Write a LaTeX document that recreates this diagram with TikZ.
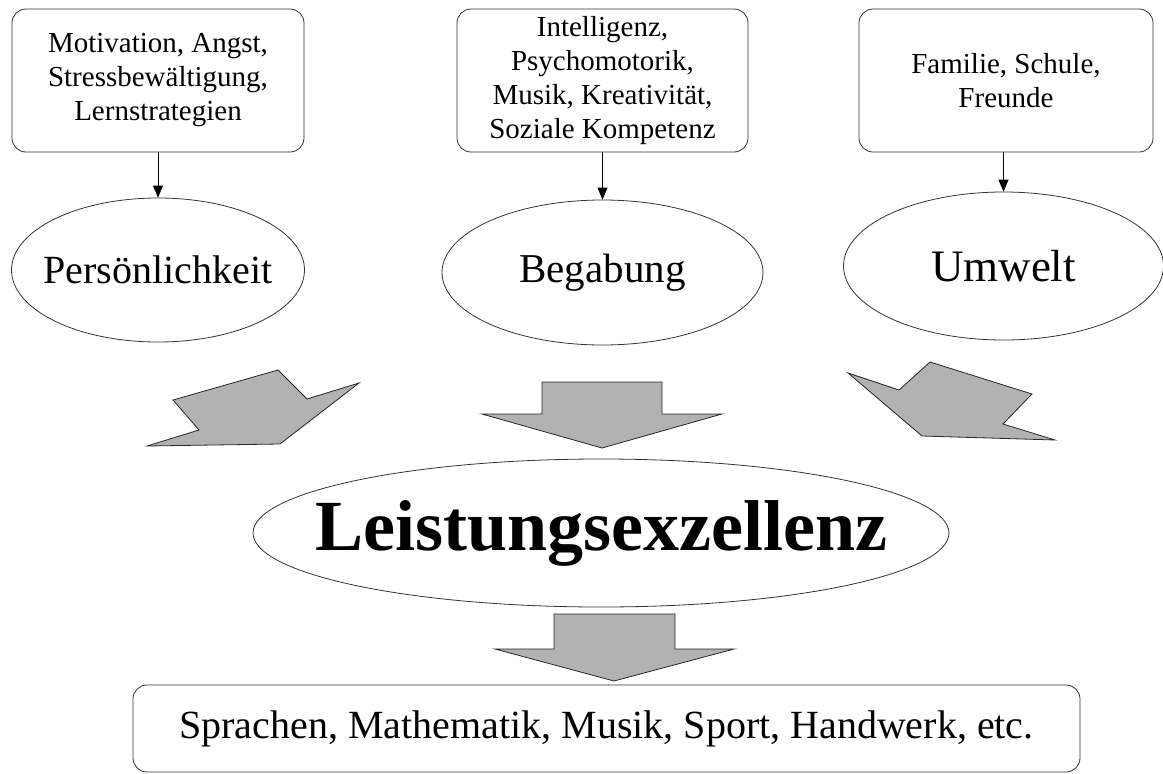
\documentclass[tikz,border=0pt]{standalone}
\usepackage{fontspec}
\setmainfont{Liberation Serif}
\usepackage{tikz}
\usetikzlibrary{arrows.meta, shapes.geometric}

\begin{document}
\begin{tikzpicture}[
    x=1pt, y=-1pt,
    line width=0.8pt,
    topbox/.style={rectangle, rounded corners=14pt, draw=black!80, minimum width=292pt, minimum height=143pt, align=center, font=\fontsize{29}{34}\selectfont, inner sep=0pt},
    factor/.style={ellipse, draw=black!80, inner xsep=-60pt, inner ysep=-15pt, font=\fontsize{41}{44}\selectfont},
    arr/.style={-{Triangle[width=10pt, length=12pt]}, black},
    bigarrow/.style={draw=black!85, fill=black!30, line join=miter}
]
\useasboundingbox (0,0) rectangle (1163,774);

% --- Einflussfaktoren ---
\node[topbox] (b_pers) at (158, 80.5) {Motivation, Angst,\\Stressbewältigung,\\Lernstrategien};
\node[topbox, minimum width=291pt] (b_beg) at (602.5, 80.5) {Intelligenz,\\Psychomotorik,\\Musik, Kreativität,\\Soziale Kompetenz};
\node[topbox, minimum width=294pt] (b_umw) at (1006, 80.5) {Familie, Schule,\\Freunde};

\node[factor, minimum width=293pt, minimum height=144pt, font=\fontsize{40}{44}\selectfont] (pers) at (158, 270) {Persönlichkeit};
\node[factor, minimum width=321pt, minimum height=145pt] (beg) at (602.5, 272.5) {Begabung};
\node[factor, minimum width=320pt, minimum height=148pt, font=\fontsize{45}{48}\selectfont] (umw) at (1003.5, 266) {Umwelt};

\draw[arr] (b_pers) -- (pers);
\draw[arr] (b_beg) -- (beg);
\draw[arr] (b_umw.south -| umw.north) -- (umw);

% --- Blockpfeile ---
\draw[bigarrow] (173,400) -- (278,370) -- (307,399) -- (359,383) -- (280,444) -- (147,446) -- (199,430) -- cycle;
\draw[bigarrow] (542,382) -- (662,382) -- (662,414) -- (722,414) -- (602,448) -- (482,414) -- (542,414) -- cycle;
\draw[bigarrow] (848,373) -- (899,390) -- (930,362) -- (1032,394) -- (1003,424) -- (1055,440) -- (922,436) -- cycle;

% --- Leistung ---
\node[factor, inner xsep=-150pt, minimum width=696pt, minimum height=148pt, font=\fontsize{72}{76}\selectfont\bfseries] (leist) at (601, 533) {Leistungsexzellenz};
\draw[bigarrow] (554,614) -- (675,614) -- (675,649) -- (734,649) -- (614,681) -- (495,649) -- (554,649) -- cycle;
\node[topbox, minimum width=947pt, minimum height=87pt, font=\fontsize{40}{44}\selectfont] (bereiche) at (606.5, 728.5) {Sprachen, Mathematik, Musik, Sport, Handwerk, etc.};
\end{tikzpicture}
\end{document}
